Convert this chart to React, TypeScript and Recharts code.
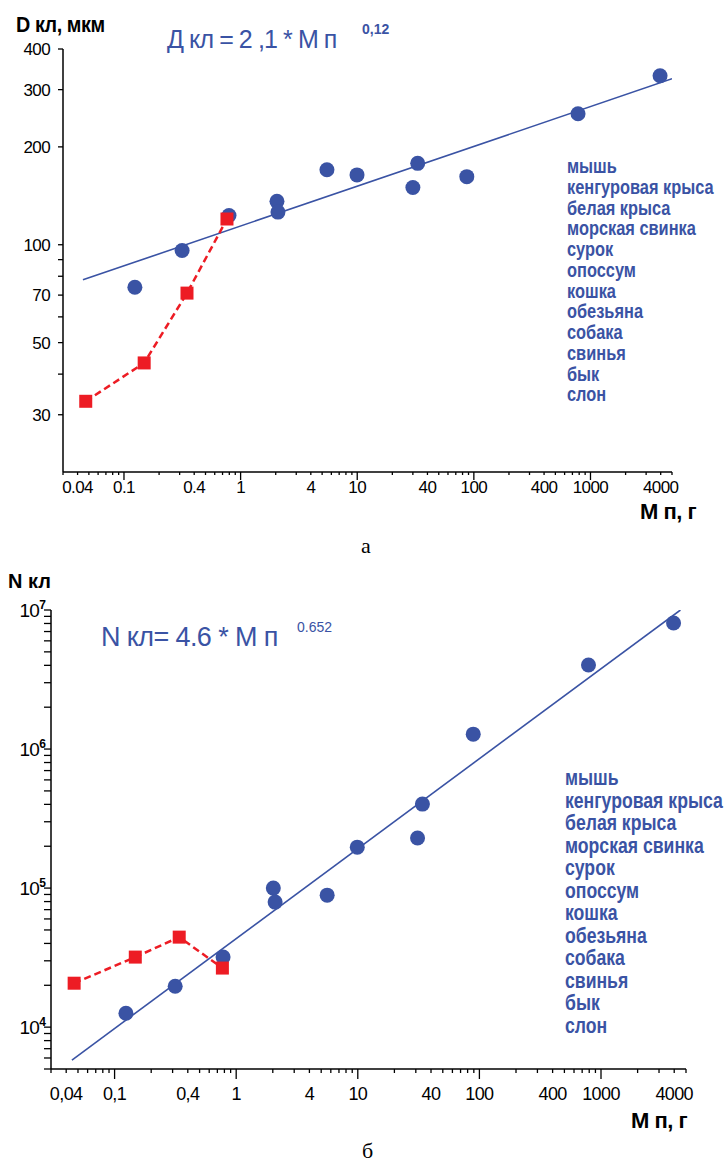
import React from 'react';
import { Scatter, ScatterChart, XAxis, YAxis } from 'recharts';

const BLUE = '#3a53a4';
const RED = '#ed1c24';
const SANS = "'Liberation Sans', Arial, sans-serif";

const animals = [
  'мышь',
  'кенгуровая крыса',
  'белая крыса',
  'морская свинка',
  'сурок',
  'опоссум',
  'кошка',
  'обезьяна',
  'собака',
  'свинья',
  'бык',
  'слон',
];

// а: диаметр клубочка от массы почки
const massA = [0.124, 0.315, 0.795, 2.05, 2.09, 5.5, 9.96, 30, 33, 87, 782, 3950];
const diamA = [74, 96, 123, 136, 126, 170, 164, 150, 178, 162, 253, 331];
const redMassA = [0.047, 0.149, 0.347, 0.764];
const redDiamA = [33, 43.3, 71, 120];
const fitMassA = [0.0445, 5000];
const fitDiamA = [78, 324];

// б: число клубочков
const massB = [0.124, 0.315, 0.78, 2.02, 2.09, 5.6, 9.9, 31, 34, 89, 789, 3950];
const countB = [12600, 19700, 31900, 100000, 79300, 89000, 197000, 229000, 402000, 1280000, 4020000, 8060000];
const redMassB = [0.0465, 0.148, 0.34, 0.77];
const redCountB = [20700, 31900, 44400, 26600];
const fitMassB = [0.0446, 4500];
const fitCountB = [5800, 10000000];

const xLabelValues = [0.04, 0.1, 0.4, 1, 4, 10, 40, 100, 400, 1000, 4000];
const xLabelsA = ['0.04', '0.1', '0.4', '1', '4', '10', '40', '100', '400', '1000', '4000'];
const xLabelsB = ['0,04', '0,1', '0,4', '1', '4', '10', '40', '100', '400', '1000', '4000'];
const yLabelsA = [30, 50, 70, 100, 200, 300, 400];
const yMinorA = [40, 60, 80, 90];
const yLabelsB = [1e4, 1e5, 1e6, 1e7];

const X_DOMAIN: [number, number] = [0.03, 5000];

function logTicks(lo: number, hi: number) {
  const out: number[] = [];
  for (let e = -3; e <= 8; e++) {
    for (let m = 1; m <= 9; m++) {
      const v = Number((m * Math.pow(10, e)).toPrecision(6));
      if (v >= lo * 0.999 && v <= hi * 1.001) out.push(v);
    }
  }
  return out;
}

const same = (a: number, b: number) => Math.abs(a - b) / b < 1e-6;
const isDecade = (v: number) => Math.abs(Math.log10(v) - Math.round(Math.log10(v))) < 1e-6;

const zip = (xs: number[], ys: number[]) => xs.map((x, i) => ({ x, y: ys[i] }));

function makeXTick(labels: string[], majorLen: number, minorLen: number, dy: number, fontSize: number) {
  return (p: any) => {
    const v = p.payload.value;
    const i = xLabelValues.findIndex((t) => same(v, t));
    const len = isDecade(v) ? majorLen : minorLen;
    return (
      <g>
        <line x1={p.x} x2={p.x} y1={p.y} y2={p.y + len} stroke="#000" strokeWidth={1.3} />
        {i >= 0 && (
          <text x={p.x} y={p.y + dy} textAnchor="middle" fontFamily={SANS} fontSize={fontSize} letterSpacing={-0.6} fill="#000">
            {labels[i]}
          </text>
        )}
      </g>
    );
  };
}

const YTickA = (p: any) => {
  const v = p.payload.value;
  const show = yLabelsA.some((t) => same(v, t));
  return (
    <g>
      <line x1={p.x - 5} x2={p.x} y1={p.y} y2={p.y} stroke="#000" strokeWidth={1.3} />
      {show && (
        <text x={p.x - 13} y={p.y + 6} textAnchor="end" fontFamily={SANS} fontSize={17} letterSpacing={-0.6} fill="#000">
          {v}
        </text>
      )}
    </g>
  );
};

const YTickB = (p: any) => {
  const v = p.payload.value;
  const show = yLabelsB.some((t) => same(v, t));
  return (
    <g>
      <line x1={p.x - 7} x2={p.x} y1={p.y} y2={p.y} stroke="#000" strokeWidth={1.3} />
      {show && (
        <text x={p.x - 6} y={p.y + 7} textAnchor="end" fontFamily={SANS} fontSize={19} letterSpacing={-0.8} fill="#000">
          10
          <tspan dy={-8} fontSize={12} fontWeight={700}>
            {Math.round(Math.log10(v))}
          </tspan>
        </text>
      )}
    </g>
  );
};

const Dot = (p: any) => <circle cx={p.cx} cy={p.cy} r={7.5} fill={BLUE} />;
const Square = (p: any) => <rect x={p.cx - 6.5} y={p.cy - 6.5} width={13} height={13} fill={RED} />;
const NoShape = () => <g />;

const axisLine = { stroke: '#000', strokeWidth: 1.5 };

function ChartA() {
  return (
    <ScatterChart width={728} height={560} margin={{ top: 49, right: 56, bottom: 58, left: 0 }}>
      <XAxis
        dataKey="x"
        type="number"
        scale="log"
        domain={X_DOMAIN}
        ticks={logTicks(0.03, 5000)}
        interval={0}
        tick={makeXTick(xLabelsA, 8, 3, 21, 17)}
        tickLine={false}
        tickSize={0}
        tickMargin={0}
        axisLine={axisLine}
        height={30}
        allowDataOverflow
      />
      <YAxis
        dataKey="y"
        type="number"
        scale="log"
        domain={[20, 400]}
        ticks={[...yLabelsA, ...yMinorA].sort((a, b) => a - b)}
        interval={0}
        tick={YTickA}
        tickLine={false}
        tickSize={0}
        tickMargin={0}
        axisLine={axisLine}
        width={63}
        allowDataOverflow
      />
      <Scatter data={zip(fitMassA, fitDiamA)} fill={BLUE} line={{ stroke: BLUE, strokeWidth: 1.6 }} shape={NoShape} isAnimationActive={false} />
      <Scatter data={zip(massA, diamA)} fill={BLUE} shape={Dot} isAnimationActive={false} />
      <Scatter
        data={zip(redMassA, redDiamA)}
        fill={RED}
        line={{ stroke: RED, strokeWidth: 2.5, strokeDasharray: '7 4' }}
        shape={Square}
        isAnimationActive={false}
      />
    </ScatterChart>
  );
}

function ChartB() {
  return (
    <ScatterChart width={728} height={606} margin={{ top: 50, right: 42, bottom: 67, left: 0 }}>
      <XAxis
        dataKey="x"
        type="number"
        scale="log"
        domain={X_DOMAIN}
        ticks={logTicks(0.03, 5000)}
        interval={0}
        tick={makeXTick(xLabelsB, 10, 4, 31, 18)}
        tickLine={false}
        tickSize={0}
        tickMargin={0}
        axisLine={axisLine}
        height={30}
        allowDataOverflow
      />
      <YAxis
        dataKey="y"
        type="number"
        scale="log"
        domain={[5000, 1e7]}
        ticks={logTicks(5000, 1e7)}
        interval={0}
        tick={YTickB}
        tickLine={false}
        tickSize={0}
        tickMargin={0}
        axisLine={axisLine}
        width={51}
        allowDataOverflow
      />
      <Scatter data={zip(fitMassB, fitCountB)} fill={BLUE} line={{ stroke: BLUE, strokeWidth: 1.6 }} shape={NoShape} isAnimationActive={false} />
      <Scatter data={zip(massB, countB)} fill={BLUE} shape={Dot} isAnimationActive={false} />
      <Scatter
        data={zip(redMassB, redCountB)}
        fill={RED}
        line={{ stroke: RED, strokeWidth: 2.5, strokeDasharray: '7 4' }}
        shape={Square}
        isAnimationActive={false}
      />
    </ScatterChart>
  );
}

function Legend({ x, y0, step, size }: { x: number; y0: number; step: number; size: number }) {
  return (
    <g>
      {animals.map((a, i) => (
        <text
          key={a}
          transform={`translate(${x} ${y0 + i * step}) scale(0.82 1)`}
          fontFamily={SANS}
          fontWeight={700}
          fontSize={size}
          fill={BLUE}
        >
          {a}
        </text>
      ))}
    </g>
  );
}

export default function App() {
  return (
    <div style={{ position: 'absolute', left: 0, top: 0, width: 728, height: 1166, background: '#fff' }}>
      <div style={{ position: 'absolute', left: 0, top: 0 }}>
        <ChartA />
      </div>
      <div style={{ position: 'absolute', left: 0, top: 560 }}>
        <ChartB />
      </div>
      <svg width={728} height={1166} style={{ position: 'absolute', left: 0, top: 0, pointerEvents: 'none' }}>
        <text transform="translate(16 32) scale(0.9 1)" fontFamily={SANS} fontWeight={700} fontSize={22} letterSpacing={-0.5}>
          D кл, мкм
        </text>
        <text x={167} y={48} fontFamily={SANS} fontSize={25} letterSpacing={-0.9} fill={BLUE}>
          Д кл = 2 ,1 * М п
        </text>
        <text x={362} y={34} fontFamily={SANS} fontWeight={700} fontSize={14} fill={BLUE}>
          0,12
        </text>
        <Legend x={567} y0={173} step={20.75} size={20} />
        <text x={640} y={519} fontFamily={SANS} fontWeight={700} fontSize={22} letterSpacing={-0.5}>
          М п, г
        </text>
        <text x={361} y={553} fontFamily="'Liberation Serif', serif" fontSize={22}>
          а
        </text>

        <text transform="translate(8 588) scale(0.95 1)" fontFamily={SANS} fontWeight={700} fontSize={21}>
          N кл
        </text>
        <text x={101} y={646} fontFamily={SANS} fontSize={27} letterSpacing={-0.6} fill={BLUE}>
          N кл= 4.6 * М п
        </text>
        <text x={297} y={632} fontFamily={SANS} fontSize={14} fill={BLUE}>
          0.652
        </text>
        <Legend x={565} y0={785} step={22.5} size={21.5} />
        <text x={631} y={1128} fontFamily={SANS} fontWeight={700} fontSize={22} letterSpacing={-0.5}>
          М п, г
        </text>
        <text x={362} y={1158} fontFamily="'Liberation Serif', serif" fontSize={22}>
          б
        </text>
      </svg>
    </div>
  );
}
